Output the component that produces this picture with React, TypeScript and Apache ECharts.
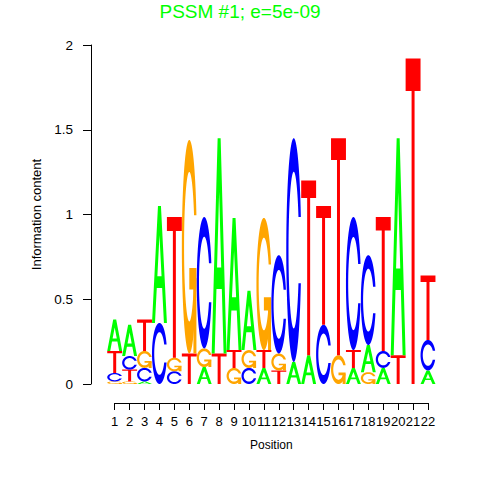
import React, { useEffect, useRef } from 'react';
import * as echarts from 'echarts';

const positions = [1, 2, 3, 4, 5, 6, 7, 8, 9, 10, 11, 12, 13, 14, 15, 16, 17, 18, 19, 20, 21, 22];
const heightA = [0.185, 0.185, 0.015, 0.69, 0, 0, 0.10, 1.27, 0.78, 0.35, 0.095, 0, 0.13, 0.17, 0, 0, 0.095, 0.16, 0.095, 1.28, 0, 0.08];
const heightC = [0.05, 0.08, 0.08, 0.36, 0.075, 0, 0.775, 0, 0, 0.095, 0, 0.58, 1.32, 0, 0.35, 0, 0.785, 0.53, 0.10, 0, 0, 0.18];
const heightG = [0.015, 0.015, 0.10, 0, 0.08, 1.26, 0.11, 0, 0.095, 0.105, 0.78, 0.10, 0, 0, 0, 0.17, 0, 0.07, 0, 0, 0, 0];
const heightT = [0.13, 0.07, 0.185, 0, 0.83, 0.18, 0, 0.18, 0.105, 0, 0.105, 0.08, 0, 1.03, 0.70, 1.28, 0.105, 0, 0.79, 0.17, 1.92, 0.38];
const yTicks = [0, 0.5, 1, 1.5, 2];
const titleText = 'PSSM #1; e=5e-09';
const letterColors: Record<string, string> = { A: '#00FF00', C: '#0000FF', G: '#FFA500', T: '#FF0000' };

// ---- glyph outlines in a unit box (y up) ----
function seq(a: number, b: number, n: number): number[] {
  const out: number[] = [];
  for (let k = 0; k < n; k++) out.push(a + ((b - a) * k) / (n - 1));
  return out;
}

function cRing(): number[][] {
  const a1 = seq(0.3 + Math.PI / 2, Math.PI, 100);
  const a2 = seq(Math.PI, 1.5 * Math.PI, 100);
  const all = [...a1, ...a2];
  const xl = all.map((a) => 0.5 + 0.5 * Math.sin(a));
  const yl = all.map((a) => 0.5 + 0.5 * Math.cos(a));
  const maxYl1 = Math.max(...a1.map((a) => 0.5 + 0.5 * Math.cos(a)));
  const outerX = [...xl, ...xl.slice().reverse()];
  const outerY = [...yl, ...yl.slice().reverse().map((v) => 1 - v)];
  let xi1 = a1.map((a) => 0.5 + 0.35 * Math.sin(a));
  let yi1 = a1.map((a) => 0.5 + 0.35 * Math.cos(a));
  const keep = yi1.map((v) => v <= maxYl1);
  xi1 = xi1.filter((_, k) => keep[k]);
  yi1 = yi1.filter((_, k) => keep[k]);
  yi1[0] = maxYl1;
  const xi = [...xi1, ...a2.map((a) => 0.5 + 0.35 * Math.sin(a))];
  const yi = [...yi1, ...a2.map((a) => 0.5 + 0.35 * Math.cos(a))];
  const innerX = [...xi, ...xi.slice().reverse()];
  const innerY = [...yi, ...yi.slice().reverse().map((v) => 1 - v)];
  const x = [...outerX, ...innerX.slice().reverse()];
  const y = [...outerY, ...innerY.slice().reverse()];
  return x.map((v, k) => [v, y[k]]);
}

const C_RING = cRing();
const R1 = 0.5 + 0.5 * Math.cos(0.3);
const glyphs: Record<string, number[][][][]> = {
  A: [[
    [[0, 0], [0.4, 1], [0.6, 1], [1, 0], [0.8, 0], [0.68, 0.3], [0.32, 0.3], [0.2, 0]],
    [[0.64, 0.4], [0.5, 0.75], [0.36, 0.4]],
  ]],
  T: [[[[0, 1], [1, 1], [1, 0.9], [0.6, 0.9], [0.6, 0], [0.4, 0], [0.4, 0.9], [0, 0.9]]]],
  C: [[C_RING]],
  G: [
    [C_RING],
    [[[R1, 0.4], [0.5, 0.4], [0.5, 0.3], [R1 - 0.2, 0.3], [R1 - 0.2, 0], [R1, 0]]],
  ],
};

const FONT = '"Liberation Sans", Arial, Helvetica, sans-serif';

export default function App() {
  const ref = useRef<HTMLDivElement>(null);
  useEffect(() => {
    document.body.style.margin = '0';
    if (!ref.current) return;
    const chart = echarts.init(ref.current, null, { renderer: 'svg' });
    const renderItem = (params: any, api: any) => {
      const i = params.dataIndex;
      const pos = positions[i];
      const letters: [string, number][] = [
        ['A', heightA[i]],
        ['C', heightC[i]],
        ['G', heightG[i]],
        ['T', heightT[i]],
      ];
      const stack = letters.filter((l) => l[1] > 0).sort((a, b) => a[1] - b[1]);
      let base = 0;
      const children: any[] = [];
      for (const [L, h] of stack) {
        for (const shape of glyphs[L]) {
          const d = shape
            .map(
              (ring) =>
                'M' +
                ring
                  .map(([ux, uy]) => {
                    const p = api.coord([pos - 0.5 + ux, base + uy * h]);
                    return p[0].toFixed(2) + ',' + p[1].toFixed(2);
                  })
                  .join('L') +
                'Z'
            )
            .join(' ');
          children.push({ type: 'path', shape: { pathData: d }, style: { fill: letterColors[L] } });
        }
        base += h;
      }
      return { type: 'group', children };
    };

    chart.setOption({
      animation: false,
      title: {
        text: titleText,
        left: 'center',
        top: -3,
        textStyle: { color: '#00FF00', fontSize: 19, fontWeight: 'normal', fontFamily: FONT },
      },
      grid: { left: 114.7, right: 52, top: 45, bottom: 96, containLabel: false, outerBoundsMode: 'none' },
      xAxis: {
        type: 'value',
        position: 'bottom',
        min: 1,
        max: 22,
        interval: 1,
        offset: 19,
        name: 'Position',
        nameLocation: 'middle',
        nameGap: 36,
        nameTextStyle: { color: '#000', fontSize: 12, fontFamily: FONT },
        axisLine: { show: true, onZero: false, lineStyle: { color: '#000', width: 1 } },
        axisTick: { show: true, length: 7, lineStyle: { color: '#000' } },
        axisLabel: { color: '#000', fontSize: 13, fontFamily: FONT, margin: 12, interval: 0, hideOverlap: false },
        splitLine: { show: false },
      },
      yAxis: {
        type: 'value',
        position: 'left',
        min: yTicks[0],
        max: yTicks[yTicks.length - 1],
        interval: 0.5,
        offset: 23.7,
        name: 'Information content',
        nameLocation: 'middle',
        nameRotate: 90,
        nameGap: 47,
        nameTextStyle: { color: '#000', fontSize: 13, fontFamily: FONT },
        axisLine: { show: true, onZero: false, lineStyle: { color: '#000', width: 1 } },
        axisTick: { show: true, length: 8, lineStyle: { color: '#000' } },
        axisLabel: { color: '#000', fontSize: 13.5, fontFamily: FONT, margin: 18 },
        splitLine: { show: false },
      },
      tooltip: { show: false },
      series: [
        {
          type: 'custom',
          clip: false,
          renderItem,
          encode: { x: 0, y: 1 },
          data: positions.map((p) => [p, 0]),
        },
      ],
    });
    return () => chart.dispose();
  }, []);
  return <div ref={ref} style={{ width: 480, height: 480 }} />;
}
